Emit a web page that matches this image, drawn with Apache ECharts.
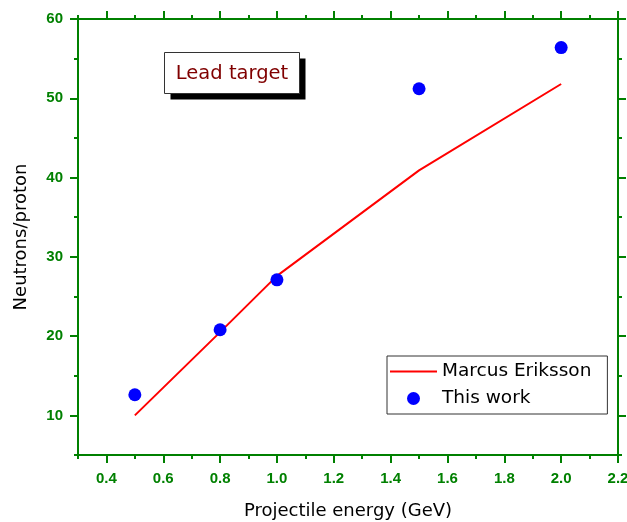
<!DOCTYPE html>
<html>
<head>
<meta charset="utf-8">
<script src="https://cdn.jsdelivr.net/npm/echarts@6/dist/echarts.min.js"></script>
<style>html,body{margin:0;padding:0;background:#fff;}#c{width:627px;height:522px;}</style>
</head>
<body>
<div id="c"></div>
<script>
var energyX = [0.5, 0.8, 1.0, 1.5, 2.0];
var erikssonY = [10.0, 20.5, 27.6, 40.9, 51.8];
var thisWorkY = [12.6, 20.8, 27.1, 51.2, 56.4];
var seriesNames = ['Marcus Eriksson', 'This work'];
var xMajorTicks = [0.4, 0.6, 0.8, 1.0, 1.2, 1.4, 1.6, 1.8, 2.0, 2.2];
var yMajorTicks = [10, 20, 30, 40, 50, 60];
var titleText = 'Lead target';
var xName = 'Projectile energy (GeV)';
var yName = 'Neutrons/proton';

var GREEN = '#008000';
var FONT = 'DejaVu Sans';
var LABFONT = 'Liberation Sans';
var chart = echarts.init(document.getElementById('c'));

function pairs(xs, ys){ return xs.map(function(x,i){ return [x, ys[i]]; }); }

var xBase = {type:'value', min:0.3, max:2.2, gridIndex:0, splitLine:{show:false}};
var yBase = {type:'value', min:5, max:60, gridIndex:0, splitLine:{show:false}};
var tickStyle = {color:GREEN, width:2};
var lineSt = {show:true, onZero:false, lineStyle:{color:GREEN, width:2}};
var tickLabel = {color:GREEN, fontFamily:LABFONT, fontWeight:'bold', fontSize:15};

function minorX(pos){
  return Object.assign({}, xBase, {position:pos, interval:0.1, axisLine:lineSt,
    axisTick:{show:true, inside:false, length:4, lineStyle:tickStyle}, axisLabel:{show:false}});
}
function majorX(pos, withLabel){
  var ax = Object.assign({}, xBase, {position:pos, interval:0.1, axisLine:{show:false},
    axisTick:{show:true, inside:false, length:8, lineStyle:tickStyle, customValues:xMajorTicks},
    axisLabel:{show:false}});
  if (withLabel) {
    ax.axisLabel = Object.assign({show:true, margin:16, customValues:xMajorTicks,
      formatter:function(v){ return v.toFixed(1); }}, tickLabel);
    ax.name = xName; ax.nameLocation = 'middle'; ax.nameGap = 47;
    ax.nameTextStyle = {color:'#000', fontFamily:FONT, fontSize:18};
  }
  return ax;
}
function minorY(pos){
  return Object.assign({}, yBase, {position:pos, interval:5, axisLine:lineSt,
    axisTick:{show:true, inside:false, length:4, lineStyle:tickStyle}, axisLabel:{show:false}});
}
function majorY(pos, withLabel){
  var ax = Object.assign({}, yBase, {position:pos, interval:5, axisLine:{show:false},
    axisTick:{show:true, inside:false, length:8, lineStyle:tickStyle, customValues:yMajorTicks},
    axisLabel:{show:false}});
  if (withLabel) {
    ax.axisLabel = Object.assign({show:true, margin:15, customValues:yMajorTicks,
      formatter:function(v){ return String(Math.round(v)); }}, tickLabel);
    ax.name = yName; ax.nameLocation = 'middle'; ax.nameGap = 48; ax.nameRotate = 90;
    ax.nameTextStyle = {color:'#000', fontFamily:FONT, fontSize:18};
  }
  return ax;
}

chart.setOption({
  animation: false,
  grid: {left: 78, right: 9, top: 19, bottom: 67, outerBoundsMode:'none', containLabel:false},
  xAxis: [majorX('bottom', true), minorX('bottom'), minorX('top'), majorX('top', false)],
  yAxis: [majorY('left', true), minorY('left'), minorY('right'), majorY('right', false)],
  legend: {
    orient:'vertical', left:387, top:356,
    backgroundColor:'#fff', borderColor:'#333', borderWidth:1,
    padding:[6,16,6,3], itemGap:8, itemWidth:47, itemHeight:13,
    textStyle:{color:'#000', fontFamily:FONT, fontSize:18.5},
    data:[
      {name:seriesNames[0], icon:'path://M0,0 L47,0 L47,2 L0,2 Z', itemStyle:{color:'#ff0000'}},
      {name:seriesNames[1], icon:'circle', itemStyle:{color:'#0000ff'}}
    ]
  },
  graphic: [{
    type:'group', left:164, top:52,
    children:[
      {type:'rect', shape:{x:6, y:6, width:135, height:41}, style:{fill:'#000'}},
      {type:'rect', shape:{x:0, y:0, width:135, height:41}, style:{fill:'#fff', stroke:'#333', lineWidth:1}},
      {type:'text', x:67.5, y:21, style:{text:titleText, fill:'#800000', font:'19.5px "DejaVu Sans"', align:'center', verticalAlign:'middle'}}
    ]
  }],
  series: [
    {name:seriesNames[0], type:'line', xAxisIndex:0, yAxisIndex:0, data:pairs(energyX, erikssonY),
     symbol:'none', lineStyle:{color:'#ff0000', width:2}, itemStyle:{color:'#ff0000'}, z:2},
    {name:seriesNames[1], type:'scatter', xAxisIndex:0, yAxisIndex:0, data:pairs(energyX, thisWorkY),
     symbol:'circle', symbolSize:13, itemStyle:{color:'#0000ff', opacity:1}, z:3}
  ]
});
</script>
</body>
</html>
